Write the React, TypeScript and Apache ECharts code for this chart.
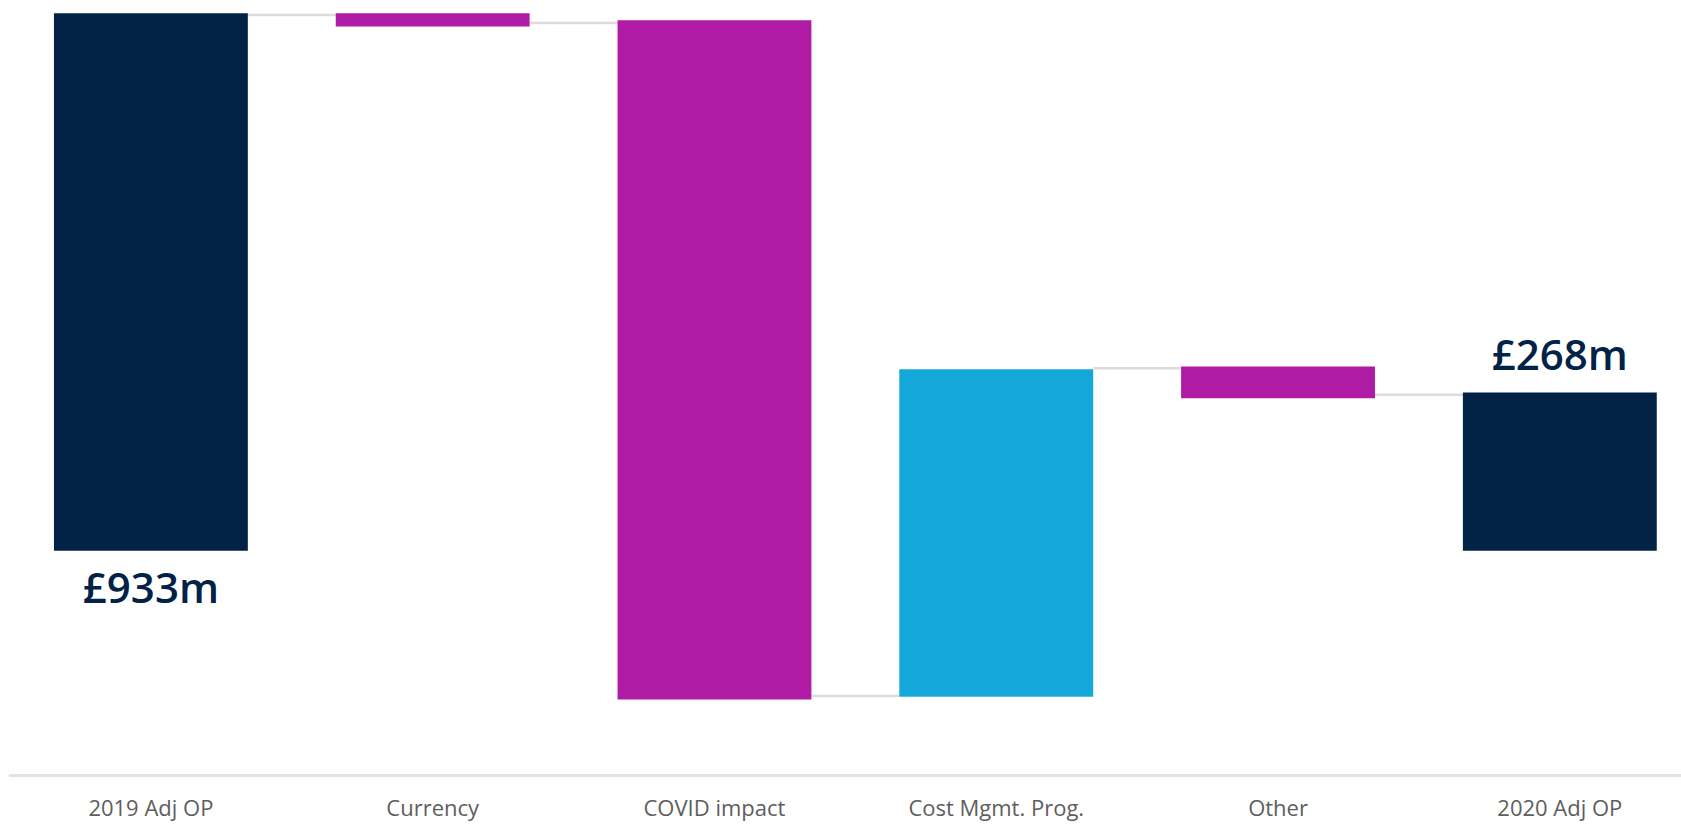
import React, { useEffect, useRef } from "react";
import * as echarts from "echarts";

const categories = ["2019 Adj OP", "Currency", "COVID impact", "Cost Mgmt. Prog.", "Other", "2020 Adj OP"];
// start and end value of each floating bar (£m)
const openValues = [0, 933, 921, -253, 320, 0];
const closeValues = [933, 910, -258, 315, 265, 275];
const kinds = ["total", "decrease", "decrease", "increase", "decrease", "total"];
// level of the grey connector drawn between bar i and bar i+1
const connectorValues = [930, 916, -252, 317, 271];
const totalLabels = ["£933m", "", "", "", "", "£268m"];
const labelSides = ["bottom", "", "", "", "", "top"];

const COLORS: Record<string, string> = {
  total: "#022246",
  decrease: "#B01BA6",
  increase: "#13A8D9",
};
const BAR_FRAC = 0.688;
const FONT = "'Open Sans', 'Noto Sans', sans-serif";

export default function App() {
  const ref = useRef<HTMLDivElement>(null);
  useEffect(() => {
    if (!ref.current) return;
    const chart = echarts.init(ref.current, undefined, { renderer: "svg" });
    const data = categories.map((_, i) => [i, openValues[i], closeValues[i]]);
    chart.setOption({
      animation: false,
      grid: { left: 10, right: 0, top: 0, bottom: 50, containLabel: false },
      xAxis: {
        type: "value",
        min: -0.5,
        max: 5.43,
        splitLine: { show: false },
        axisTick: { show: false },
        axisLine: { show: true, onZero: false, lineStyle: { color: "#e2e2e2", width: 3 } },
        axisLabel: {
          customValues: [0, 1, 2, 3, 4, 5],
          formatter: (v: number) => categories[Math.round(v)] ?? "",
          color: "#5e5e5e",
          fontFamily: FONT,
          fontSize: 22,
          lineHeight: 22,
          margin: 21,
        },
      },
      yAxis: {
        type: "value",
        min: -389,
        max: 956,
        show: false,
        splitLine: { show: false },
      },
      series: [
        {
          type: "custom",
          clip: false,
          data,
          renderItem: (params: any, api: any) => {
            const i = api.value(0);
            const open = api.value(1);
            const close = api.value(2);
            const half = BAR_FRAC / 2;
            const hi = Math.max(open, close);
            const lo = Math.min(open, close);
            const p0 = api.coord([i - half, hi]);
            const p1 = api.coord([i + half, lo]);
            const children: any[] = [];
            if (i < connectorValues.length) {
              const a = api.coord([i + half, connectorValues[i]]);
              const b = api.coord([i + 1 - half, connectorValues[i]]);
              children.push({
                type: "line",
                shape: { x1: a[0], y1: a[1], x2: b[0], y2: b[1] },
                style: { stroke: "#dcdcdc", lineWidth: 2.5 },
              });
            }
            children.push({
              type: "rect",
              shape: { x: p0[0], y: p0[1], width: p1[0] - p0[0], height: p1[1] - p0[1] },
              style: { fill: COLORS[kinds[i]] },
            });
            const txt = totalLabels[i];
            if (txt) {
              const cx = (p0[0] + p1[0]) / 2;
              const below = labelSides[i] === "bottom";
              children.push({
                type: "text",
                x: cx,
                y: below ? p1[1] + 36 : p0[1] - 39,
                style: {
                  text: txt,
                  fill: "#022246",
                  font: `600 42px ${FONT}`,
                  align: "center",
                  verticalAlign: "middle",
                },
              });
            }
            return { type: "group", children };
          },
        },
      ],
    });
    return () => chart.dispose();
  }, []);
  return (
    <div
      ref={ref}
      style={{ position: "fixed", left: 0, top: 0, width: "1681px", height: "825px", background: "#fff" }}
    />
  );
}
